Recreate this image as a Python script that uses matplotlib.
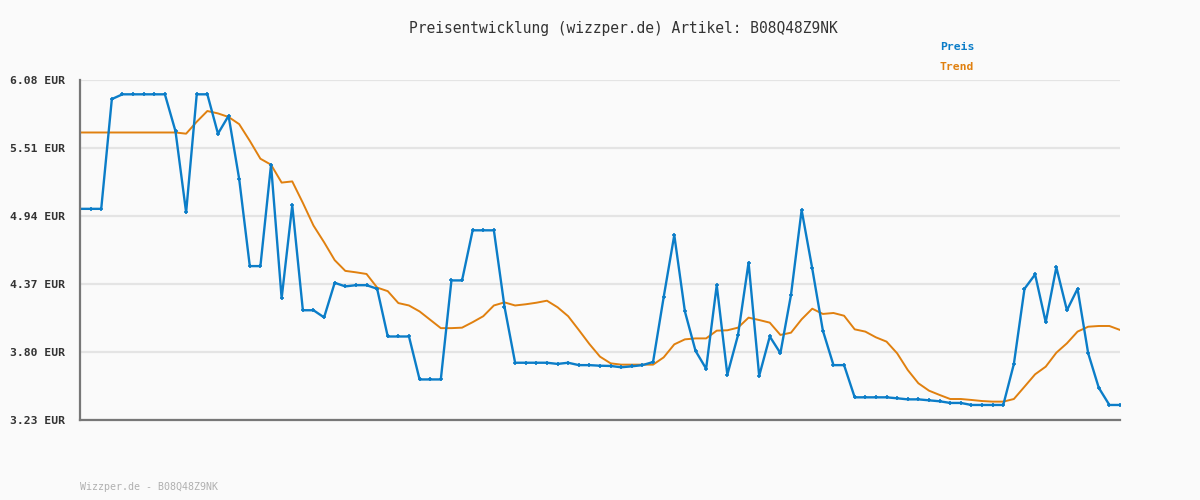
import numpy as np
import matplotlib
matplotlib.use('Agg')
import matplotlib.pyplot as plt

# price history (EUR), one value per sample
preis = [5.00, 5.00, 5.00, 5.92, 5.96, 5.96, 5.96, 5.96, 5.96, 5.65,
         4.97, 5.96, 5.96, 5.63, 5.78, 5.25, 4.52, 4.52, 5.37, 4.25,
         5.03, 4.15, 4.15, 4.09, 4.38, 4.35, 4.36, 4.36, 4.33, 3.93,
         3.93, 3.93, 3.57, 3.57, 3.57, 4.40, 4.40, 4.82, 4.82, 4.82,
         4.18, 3.71, 3.71, 3.71, 3.71, 3.70, 3.71, 3.69, 3.69, 3.685,
         3.683, 3.672, 3.68, 3.69, 3.716, 4.26, 4.78, 4.14, 3.81, 3.66,
         4.36, 3.61, 3.94, 4.55, 3.60, 3.93, 3.79, 4.28, 4.99, 4.50,
         3.98, 3.69, 3.69, 3.42, 3.42, 3.42, 3.42, 3.412, 3.403, 3.403,
         3.395, 3.387, 3.373, 3.373, 3.356, 3.356, 3.356, 3.356, 3.70, 4.33,
         4.45, 4.05, 4.51, 4.15, 4.33, 3.79, 3.50, 3.356, 3.356]

trend = [5.64, 5.64, 5.64, 5.64, 5.64, 5.64, 5.64, 5.64, 5.64, 5.64,
         5.63, 5.73, 5.82, 5.80, 5.77, 5.71, 5.57, 5.42, 5.37, 5.22,
         5.23, 5.05, 4.86, 4.72, 4.57, 4.48, 4.468, 4.454, 4.34, 4.31,
         4.21, 4.19, 4.14, 4.07, 4.00, 4.00, 4.004, 4.05, 4.10, 4.19,
         4.216, 4.19, 4.20, 4.213, 4.23, 4.175, 4.10, 3.985, 3.867, 3.761,
         3.705, 3.694, 3.694, 3.694, 3.694, 3.755, 3.864, 3.906, 3.914, 3.914,
         3.979, 3.982, 4.004, 4.088, 4.068, 4.046, 3.943, 3.962, 4.074, 4.163,
         4.119, 4.127, 4.104, 3.99, 3.971, 3.923, 3.887, 3.789, 3.649, 3.538,
         3.476, 3.44, 3.406, 3.406, 3.398, 3.389, 3.384, 3.384, 3.406, 3.509,
         3.613, 3.677, 3.794, 3.873, 3.971, 4.012, 4.018, 4.018, 3.985]

yticks = [3.23, 3.80, 4.37, 4.94, 5.51, 6.08]
ytick_labels = ['%.2f EUR' % t for t in yticks]
title = 'Preisentwicklung (wizzper.de) Artikel: B08Q48Z9NK'
footer = 'Wizzper.de - B08Q48Z9NK'

blue = '#0b7dc8'
orange = '#e0800f'
bg = '#fafafa'
mono = 'DejaVu Sans Mono'

fig = plt.figure(figsize=(12, 5), dpi=100, facecolor=bg)
ax = fig.add_axes([80 / 1200, 80 / 500, 1040 / 1200, 340 / 500], facecolor=bg)

x = np.arange(len(preis))
ax.plot(x, trend, color=orange, lw=1.4, zorder=3)
ax.plot(x, preis, color=blue, lw=1.7, marker='+', ms=3.5, mew=1.2, zorder=4)

ax.set_xlim(0, len(preis) - 1)
ax.set_ylim(yticks[0], yticks[-1])
ax.set_yticks(yticks)
ax.set_yticklabels(ytick_labels, family=mono, fontsize=8.2, fontweight='bold', color='#333333')
ax.set_xticks([])
ax.tick_params(axis='y', length=0, pad=11)
ax.grid(axis='y', color='#e4e4e4', lw=1.6)
ax.set_axisbelow(True)
for s in ['top', 'right']:
    ax.spines[s].set_visible(False)
for s in ['left', 'bottom']:
    ax.spines[s].set_color('#777777')
    ax.spines[s].set_linewidth(1.6)
ax.spines['left'].set_zorder(5)

fig.text(623 / 1200, 1 - 28 / 500, title, family=mono, fontsize=10.5,
         color='#333333', ha='center', va='center')
fig.text(940 / 1200, 1 - 47 / 500, 'Preis', family=mono, fontsize=8.2,
         fontweight='bold', color=blue, ha='left', va='center')
fig.text(940 / 1200, 1 - 67 / 500, 'Trend', family=mono, fontsize=8.2,
         fontweight='bold', color=orange, ha='left', va='center')
fig.text(80 / 1200, 1 - 487 / 500, footer, family=mono, fontsize=7.2,
         color='#b0b0b0', ha='left', va='center')

fig.savefig('out.png', dpi=100, facecolor=bg)
